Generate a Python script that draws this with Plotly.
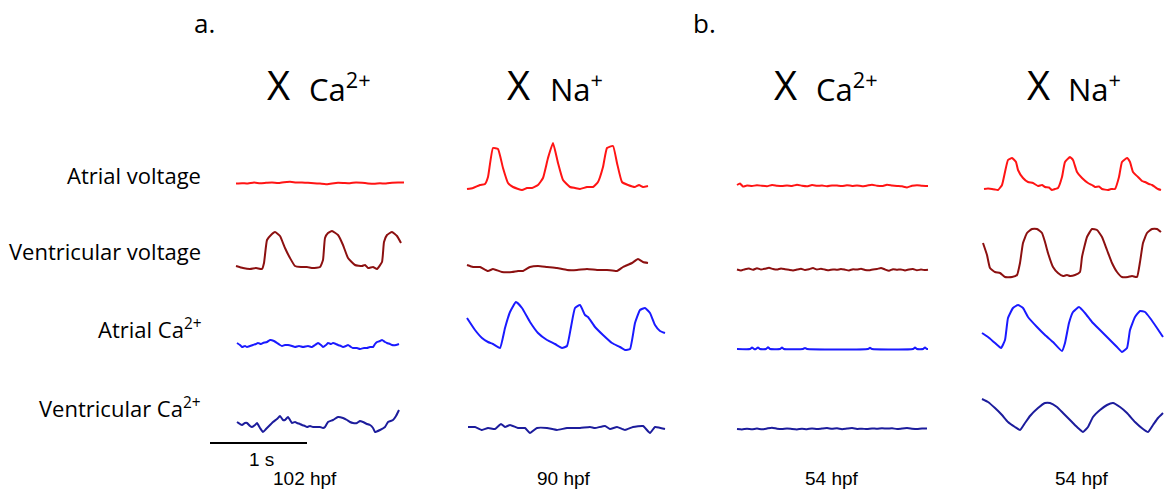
import plotly.graph_objects as go

# ---------------- data (time in camera frames ~ 1/97 s, signal in a.u.) ----------------
# Column 1 : X Ca2+ (102 hpf)
c1_av_t = [0, 6, 12, 18, 24, 30, 36, 42, 48, 54, 60, 66, 72, 78, 84, 90, 96, 102, 108, 114, 120, 126, 132, 138, 144, 150, 156, 162, 168]
c1_av_v = [16.5, 16.8, 16.5, 17.5, 16.8, 17.2, 17.6, 17.0, 17.8, 18.2, 17.6, 17.4, 17.2, 16.8, 16.4, 15.8, 16.6, 17.2, 17.0, 16.8, 17.6, 17.2, 16.6, 16.2, 16.8, 16.4, 17.2, 17.6, 17.4]
c1_vv_t = [0, 7, 14, 20, 26, 28, 31, 35, 39, 44, 49, 54, 59, 65, 71, 77, 84, 87, 89, 92, 96, 102, 107, 112, 119, 126, 129, 132, 137, 141, 146, 148, 151, 156, 161, 165]
c1_vv_v = [19, 17, 16, 17, 16, 22, 45, 50, 53, 49, 37, 27, 19, 18, 18, 17, 18, 25, 47, 52, 54, 50, 40, 27, 20, 19, 20, 17, 18, 16, 23, 43, 50, 53, 49, 42]
c1_ac_t = [1, 4, 6, 9, 11, 14, 17, 20, 22, 25, 27, 31, 34, 38, 41, 44, 46, 49, 52, 56, 59, 63, 67, 72, 76, 79, 82, 85, 87, 90, 92, 95, 97, 100, 102, 105, 107, 110, 112, 115, 117, 121, 124, 128, 131, 134, 137, 139, 141, 144, 146, 149, 151, 154, 156, 160, 163]
c1_ac_v = [17, 15, 13, 14, 13, 14, 15, 16, 17, 16, 17, 18, 20, 19, 17, 15, 14, 15, 15, 14, 13, 14, 13, 14, 13, 15, 17, 15, 13, 15, 17, 16, 17, 16, 15, 14, 13, 14, 15, 13, 12, 12, 11, 12, 12, 13, 13, 16, 18, 19, 20, 18, 17, 16, 15, 15, 16]
c1_vc_t = [1, 4, 6, 9, 11, 14, 16, 19, 21, 24, 27, 30, 32, 35, 37, 41, 44, 47, 49, 52, 56, 59, 61, 64, 66, 69, 71, 74, 77, 80, 84, 87, 89, 92, 97, 102, 107, 111, 114, 117, 121, 124, 127, 131, 134, 137, 139, 144, 149, 152, 157, 160, 163]
c1_vc_v = [28, 26, 25, 27, 27, 24, 23, 25, 27, 22, 18, 21, 23, 26, 28, 31, 34, 30, 30, 33, 27, 28, 27, 26, 25, 24, 23, 24, 23, 23, 23, 22, 23, 28, 30, 33, 32, 30, 28, 27, 27, 29, 28, 26, 25, 22, 18, 20, 23, 28, 30, 34, 40]

# Column 2 : X Na+ (90 hpf)
c2_av_t = [0, 6, 13, 18, 21, 26, 31, 36, 41, 46, 55, 60, 65, 71, 76, 81, 86, 91, 96, 103, 108, 113, 120, 126, 131, 136, 140, 146, 150, 155, 161, 168, 172, 176, 181]
c2_av_v = [11, 12, 15, 16, 23, 52, 51, 32, 17, 13, 10, 12, 12, 15, 22, 42, 57, 37, 20, 13, 12, 11, 13, 13, 18, 33, 52, 54, 37, 18, 15, 13, 15, 13, 14]
c2_vv_t = [0, 6, 13, 21, 26, 35, 45, 51, 56, 63, 71, 80, 90, 100, 110, 120, 130, 140, 150, 156, 165, 171, 176, 181]
c2_vv_v = [20, 18, 18, 14, 16, 13, 13, 14, 14, 18, 19, 18, 17, 15, 15, 16, 15, 15, 14, 18, 22, 26, 23, 22]
c2_ac_t = [0, 8, 15, 21, 26, 33, 38, 43, 49, 55, 63, 71, 80, 88, 95, 100, 104, 108, 113, 118, 121, 128, 136, 145, 153, 158, 163, 168, 173, 178, 183, 188, 193, 198]
c2_ac_v = [42, 30, 22, 18, 16, 12, 32, 48, 58, 52, 38, 27, 20, 16, 12, 14, 33, 52, 55, 45, 43, 33, 25, 17, 13, 10, 11, 37, 50, 52, 47, 35, 29, 27]
c2_vc_t = [1, 8, 15, 21, 28, 34, 38, 43, 51, 58, 63, 70, 80, 90, 100, 113, 123, 128, 138, 143, 150, 158, 166, 176, 183, 188, 198]
c2_vc_v = [23, 23, 20, 22, 21, 26, 23, 25, 22, 22, 17, 22, 22, 20, 22, 22, 23, 22, 24, 21, 23, 20, 23, 24, 17, 23, 21]

# Column 3 : X Ca2+ (54 hpf)
c3_av_t = [0, 3, 6, 10, 15, 20, 25, 30, 35, 40, 45, 50, 55, 60, 65, 70, 75, 80, 85, 90, 95, 100, 105, 110, 115, 120, 125, 130, 135, 140, 145, 150, 155, 160, 165, 170, 175, 180, 185, 191]
c3_av_v = [15, 16.5, 13.5, 14.5, 14, 14.8, 14.2, 13.8, 15, 14.3, 13.9, 14.6, 14.1, 15.2, 14.3, 13.8, 14.9, 14.2, 14.5, 13.7, 14.6, 14.4, 13.9, 14.8, 14.1, 14.5, 13.8, 14.4, 15.2, 14.3, 13.9, 15.3, 14.6, 14.1, 13.7, 12.6, 14.2, 14.8, 14.2, 14.0]
c3_vv_t = [0, 4, 8, 12, 16, 20, 24, 28, 32, 36, 40, 44, 48, 52, 56, 60, 64, 68, 72, 76, 80, 84, 88, 92, 96, 100, 104, 108, 112, 116, 120, 124, 128, 132, 136, 140, 144, 148, 152, 156, 160, 164, 168, 172, 176, 180, 184, 188, 191]
c3_vv_v = [15.5, 14.5, 15.8, 16.5, 15.2, 16.8, 15.5, 16.2, 17.2, 16.0, 15.4, 16.5, 15.8, 15.2, 14.6, 15.4, 16.2, 15.0, 15.8, 16.9, 15.5, 16.2, 15.4, 14.8, 15.6, 15.2, 16.0, 15.3, 14.5, 15.8, 15.4, 16.3, 15.1, 14.7, 15.6, 16.0, 17.1, 15.5, 14.3, 15.8, 15.2, 15.6, 14.6, 15.5, 15.9, 14.8, 15.4, 14.9, 15.2]
c3_ac_t = [0, 13, 15, 17, 19, 21, 23, 29, 31, 33, 43, 45, 47, 66, 68, 70, 131, 133, 135, 176, 178, 180, 186, 188, 190, 191]
c3_ac_v = [11, 11, 12.5, 11, 11, 12.5, 11, 11, 12.8, 11, 11, 12.5, 11, 11, 12, 11, 11, 12.2, 11, 11, 12.5, 11, 11, 12.5, 11, 11]
c3_vc_t = [0, 5, 10, 15, 20, 25, 30, 35, 40, 45, 50, 55, 60, 65, 70, 75, 80, 85, 90, 95, 100, 105, 110, 115, 120, 125, 130, 135, 140, 145, 150, 155, 160, 165, 170, 175, 180, 185, 190]
c3_vc_v = [21, 20.6, 21.2, 20.8, 21.4, 20.7, 21.5, 22.3, 21.3, 20.9, 21.6, 21.0, 20.6, 21.2, 20.8, 21.6, 20.9, 21.5, 22.0, 21.2, 21.7, 20.8, 21.4, 21.9, 21.1, 21.3, 20.9, 21.6, 21.2, 21.8, 21.4, 21.7, 21.0, 21.5, 21.9, 21.3, 20.9, 21.6, 21.4]

# Column 4 : X Na+ (54 hpf)
c4_av_t = [2, 6, 10, 13, 16, 20, 23, 26, 30, 34, 36, 41, 46, 51, 56, 60, 63, 67, 70, 73, 76, 80, 83, 88, 91, 95, 100, 106, 110, 113, 117, 120, 126, 129, 133, 137, 140, 145, 148, 151, 156, 160, 163, 167, 170, 173, 176, 179]
c4_av_v = [11, 11.5, 11, 10.5, 10, 15, 28, 40, 42, 38, 30, 22, 18, 17, 14, 15, 13, 12.5, 10, 11, 12, 23, 38, 43, 40, 28, 22, 17, 15, 13, 13.5, 11, 10, 11, 11, 23, 38, 42, 38, 28, 23, 19, 18, 16, 15, 13, 11, 10]
c4_vv_t = [1, 5, 8, 13, 18, 23, 30, 35, 38, 41, 45, 50, 55, 60, 63, 66, 71, 76, 81, 85, 88, 93, 98, 100, 105, 110, 115, 120, 125, 130, 135, 140, 146, 150, 155, 158, 161, 165, 170, 175, 179]
c4_vv_v = [42, 30, 17, 13, 12, 8, 8, 10, 22, 42, 52, 56, 56, 52, 43, 32, 18, 12, 9, 10, 9, 10, 13, 28, 48, 56, 55, 48, 35, 22, 13, 8, 8, 9, 8, 23, 42, 52, 56, 56, 53]
c4_ac_t = [0, 6, 13, 19, 23, 26, 31, 36, 41, 46, 55, 63, 71, 80, 83, 87, 91, 97, 103, 110, 118, 126, 135, 140, 145, 148, 153, 158, 163, 168, 175, 181]
c4_ac_v = [27, 23, 17, 12, 20, 42, 52, 55, 52, 43, 33, 25, 18, 9, 17, 37, 48, 53, 47, 38, 30, 22, 13, 8, 12, 30, 43, 49, 48, 42, 32, 23]
c4_vc_t = [0, 6, 13, 20, 26, 33, 38, 43, 48, 56, 63, 68, 75, 81, 90, 96, 101, 106, 111, 118, 125, 131, 138, 145, 153, 161, 166, 171, 176, 181]
c4_vc_v = [51, 48, 42, 35, 28, 23, 20, 27, 34, 42, 47, 47, 43, 37, 28, 22, 18, 23, 33, 40, 45, 47, 43, 37, 28, 21, 18, 25, 32, 37]

scale_bar_t = [-26, 71]          # 97 frames = 1 s
scale_bar_v = [7, 7]

row_labels = ["Atrial voltage", "Ventricular voltage", "Atrial Ca<sup>2+</sup>", "Ventricular Ca<sup>2+</sup>"]
col_blockers = ["Ca<sup>2+</sup>", "Na<sup>+</sup>", "Ca<sup>2+</sup>", "Na<sup>+</sup>"]
col_ages = ["102 hpf", "90 hpf", "54 hpf", "54 hpf"]
panel_letters = ["a.", "b."]

# ---------------- layout (pixels) ----------------
W, H = 1164, 491
col_dom = [(205, 410, -31), (460, 670, -7), (730, 935, -7), (975, 1164, -7)]   # left px, right px, range start
row_dom = [(130, 200), (215, 285), (290, 360), (390, 450)]                    # top px, bottom px
row_colors = ["#ff1414", "#8c1010", "#1a1aff", "#1c1c9c"]

series = [
    [(c1_av_t, c1_av_v), (c1_vv_t, c1_vv_v), (c1_ac_t, c1_ac_v), (c1_vc_t, c1_vc_v)],
    [(c2_av_t, c2_av_v), (c2_vv_t, c2_vv_v), (c2_ac_t, c2_ac_v), (c2_vc_t, c2_vc_v)],
    [(c3_av_t, c3_av_v), (c3_vv_t, c3_vv_v), (c3_ac_t, c3_ac_v), (c3_vc_t, c3_vc_v)],
    [(c4_av_t, c4_av_v), (c4_vv_t, c4_vv_v), (c4_ac_t, c4_ac_v), (c4_vc_t, c4_vc_v)],
]

fig = go.Figure()

def xname(c):
    return "x" if c == 0 else f"x{c+1}"

def yname(r):
    return "y" if r == 0 else f"y{r+1}"

for c in range(4):
    for r in range(4):
        t, v = series[c][r]
        fig.add_trace(go.Scatter(
            x=t, y=v, mode="lines", xaxis=xname(c), yaxis=yname(r),
            line=dict(color=row_colors[r], width=2, shape="spline", smoothing=0.4),
            showlegend=False, hoverinfo="skip"))

fig.add_trace(go.Scatter(x=scale_bar_t, y=scale_bar_v, mode="lines", xaxis="x", yaxis="y4",
                         line=dict(color="black", width=2), showlegend=False, hoverinfo="skip"))

lay = {}
for c, (l, rgt, r0) in enumerate(col_dom):
    key = "xaxis" if c == 0 else f"xaxis{c+1}"
    lay[key] = dict(domain=[l / W, rgt / W], range=[r0, r0 + (rgt - l)], visible=False,
                    anchor="y", fixedrange=True)
for r, (top, bot) in enumerate(row_dom):
    key = "yaxis" if r == 0 else f"yaxis{r+1}"
    lay[key] = dict(domain=[1 - bot / H, 1 - top / H], range=[0, bot - top], visible=False,
                    anchor="x", fixedrange=True)

ann = []
def px(x, y, text, size, family, xanchor="center", yanchor="middle", color="black"):
    ann.append(dict(x=x / W, y=1 - y / H, xref="paper", yref="paper", text=text, showarrow=False,
                    xanchor=xanchor, yanchor=yanchor,
                    font=dict(size=size, family=family, color=color)))

calib = "Open Sans, Lato, sans-serif"
arial = "Liberation Sans, Arial, sans-serif"

px(204, 23, panel_letters[0], 26, calib)
px(704, 23, panel_letters[1], 26, calib)

x_pos = [278, 518, 785, 1038]
lbl_left = [307, 548, 814, 1066]
for i in range(4):
    px(x_pos[i], 85, "X", 40, calib)
    px(lbl_left[i], 87, col_blockers[i], 31, calib, xanchor="left")

row_y = [175, 251, 328, 407]
for i in range(4):
    px(203, row_y[i], row_labels[i], 22, calib, xanchor="right")

age_x = [305, 564, 832, 1082]
for i in range(4):
    px(age_x[i], 478, col_ages[i], 19, arial)
px(261, 459, "1 s", 19, arial)

fig.update_layout(width=W, height=H, margin=dict(l=0, r=0, t=0, b=0),
                  paper_bgcolor="white", plot_bgcolor="rgba(0,0,0,0)",
                  annotations=ann, **lay)

fig.write_html("out.html", config={"displayModeBar": False})
